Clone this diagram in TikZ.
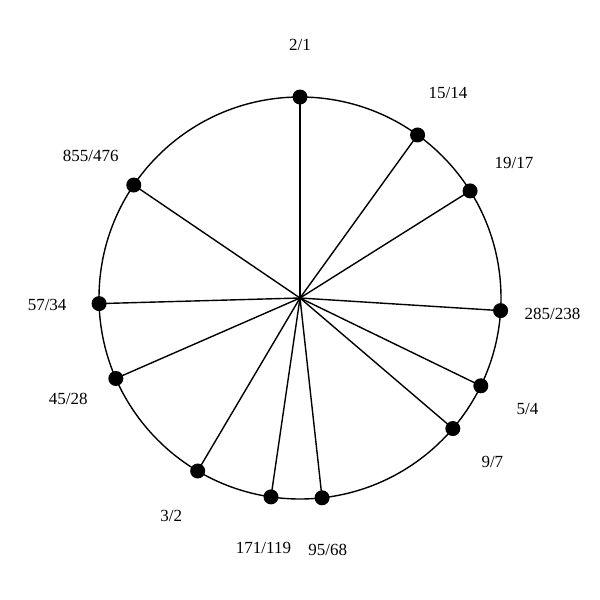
\documentclass[tikz,border=0pt]{standalone}
\usepackage{fontspec}
\setmainfont{Liberation Serif}
\usetikzlibrary{calc}
\begin{document}
\begin{tikzpicture}[x=1pt,y=-1pt,
  spoke/.style={line width=1.4pt},
  ring/.style={line width=1.4pt},
  dotmark/.style={circle,fill=black,inner sep=0pt,minimum size=15pt},
  lbl/.style={font=\fontsize{17}{20}\selectfont,inner sep=0pt}]
\useasboundingbox (0,0) rectangle (600,600);
\coordinate (c) at (300,298);
\draw[ring] (c) circle[radius=201];
\foreach \a/\t/\n in {0/2\slash 1/p1, 35.8/15\slash 14/p2, 57.8/19\slash 17/p3, 93.6/285\slash 238/p4,
  115.9/5\slash 4/p5, 130.5/9\slash 7/p6, 173.7/95\slash 68/p7, 188.3/171\slash 119/p8,
  210.6/3\slash 2/p9, 246.4/45\slash 28/p10, 268.4/57\slash 34/p11, 304.2/855\slash 476/p12}{
  \coordinate (\n c) at ($(c)+({201*sin(\a)},{-201*cos(\a)})$);
  \draw[spoke] (c) -- (\n c);
  \node[dotmark] (\n) at (\n c) {};
  \node[lbl] (\n l) at ($(c)+({253*sin(\a)},{-253*cos(\a)})$) {\t};
}
\end{tikzpicture}
\end{document}
